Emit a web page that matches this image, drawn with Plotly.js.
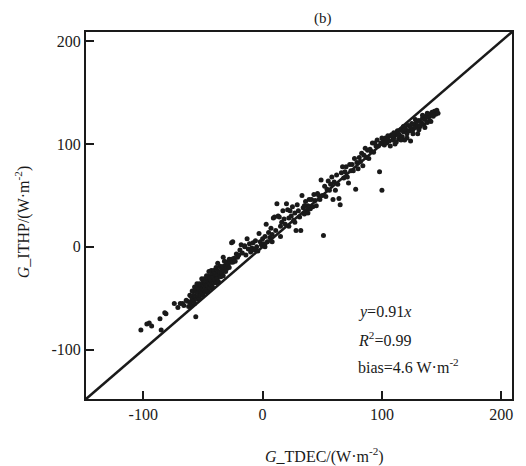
<!DOCTYPE html>
<html>
<head>
<meta charset="utf-8">
<script src="https://cdn.plot.ly/plotly-3.0.1.min.js"></script>
<style>html,body{margin:0;padding:0;background:#fff;}#chart{width:526px;height:466px;}</style>
</head>
<body>
<div id="chart"></div>
<script>
// G_TDEC (x) vs G_ITHP (y), W·m^-2
var tailX = [-102,-97,-95,-93,-86,-85,-82,-81,-74,-71,-69,-67,-56,-64,-66];
var tailY = [-81,-75,-74,-77,-70,-81,-64,-65,-55,-59,-55,-55,-68,-52,-57];

var clusterX = [-63,-62,-61,-61,-60,-60,-59,-59,-58,-58,-57,-57,-57,-56,-56,-56,-55,-55,-55,-54,-54,-54,-53,-53,-53,-52,-52,-52,-51,-51,-51,-50,-50,-50,-50,-49,-49,-49,-48,-48,-48,-48,-47,-47,-47,-46,-46,-46,-46,-45,-45,-45,-44,-44,-44,-44,-43,-43,-43,-42,-42,-42,-41,-41,-41,-40,-40,-40,-39,-39,-39,-38,-38,-38,-37,-37,-36,-36,-36,-35,-35,-34,-34,-33,-33,-32,-32,-31,-31,-30,-30,-29,-28,-28,-27,-26,-25,-24,-23,-22,-21,-20,-37.6,-25,-15,-33,-45];
var clusterY = [-53,-58,-47,-54,-48,-57,-43,-51,-47,-53,-39,-48,-55,-43,-49,-41,-51,-44,-36,-48,-40,-45,-50,-41,-36,-44,-47,-37,-41,-31,-45,-37,-47,-41,-34,-38,-42,-31,-44,-36,-34,-40,-37,-28,-42,-33,-43,-30,-37,-34,-39,-28,-32,-40,-30,-36,-23,-33,-37,-29,-39,-26,-32,-30,-23,-35,-26,-32,-27,-20,-35,-28,-23,-31,-24,-34,-19,-27,-25,-29,-19,-22,-26,-19,-28,-14,-22,-24,-18,-15,-21,-18,-12,-20,-15,-12,-15,-11,-14,-7,-10,-8,-16,5,0,-10,-24];

var midX = [-26,-19,-17,-15,-14,-12,-11,-10,-9,-8,-7,-6,-5,-4,-3,-2,-1,0,1,2,3,4,5,6,7,8,9,10,11,12,13,14,15,16,17,18,19,20,21,22,23,24,25,26,27,28,29,30,31,32,33,34,35,36,37,38,39,40,-18,-13,-6,2,8,15,22,27,35,38];
var midY = [4,-3,-6,1,-8,-2,3,-5,-1,4,-3,6,0,-4,13,5,2,8,3,10,22,5,14,9,18,12,28,29,16,42,30,29,20,24,35,27,22,42,36,28,35,30,39,26,33,16,41,35,29,16,50,38,32,44,35,40,46,37,2,8,-2,0,5,10,20,24,40,33];

var upperX = [41,42,43,44,45,46,47,48,49,50,51,52,53,54,55,56,57,58,59,60,61,62,63,64,65,66,67,68,69,70,71,72,73,74,75,76,77,78,79,80,81,82,83,84,85,86,87,88,89,90,91,92,93,94,95,96,97,98,99,100,100];
var upperY = [46,39,51,45,40,52,50,46,65,50,11,59,49,56,64,55,61,68,46,63,55,70,61,47,41,72,78,67,73,78,68,62,80,74,80,74,86,56,82,76,87,83,91,79,89,96,87,94,86,95,93,101,92,101,98,104,98,73,101,55,106];

var topX = [101,102,103,104,105,106,107,108,109,110,110,111,112,113,114,114,115,116,117,118,118,119,120,121,122,123,124,124,125,126,127,128,129,130,130,131,132,133,134,135,136,137,138,139,140,140,141,142,143,144,145,146,147,112,116,121,126,131,136,141,128,134,138,119,109];
var topY = [103,99,106,101,108,103,98,109,104,111,106,100,109,113,105,110,108,114,107,112,117,104,114,110,118,113,103,116,120,114,119,116,122,110,118,123,117,121,125,119,124,127,121,126,129,123,128,131,127,132,129,133,130,102,104,106,110,114,116,122,124,128,130,116,108];

var axisRange = [-148, 209];
var tickVals = [-100, 0, 100, 200];

var xs = tailX.concat(clusterX, midX, upperX, topX);
var ys = tailY.concat(clusterY, midY, upperY, topY);

var fontFam = '"Liberation Serif", "Times New Roman", serif';
var ink = '#1a1a1a';

var trace = {
  x: xs, y: ys, type: 'scatter', mode: 'markers',
  marker: {color: ink, size: 5, line: {width: 0}},
  hoverinfo: 'skip', showlegend: false
};

function axis() {
  return {
    range: axisRange, autorange: false,
    tickvals: tickVals, ticktext: tickVals.map(String),
    ticks: 'inside', ticklen: 8, tickwidth: 2, tickcolor: ink,
    showline: true, linewidth: 2, linecolor: ink, mirror: true,
    showgrid: false, zeroline: false,
    tickfont: {family: fontFam, size: 16, color: ink}
  };
}

function note(text, x, y, xanchor, extra) {
  var a = {text: text, xref: 'paper', yref: 'paper', x: x, y: y,
           xanchor: xanchor, yanchor: 'middle', showarrow: false,
           font: {family: fontFam, size: 16, color: ink}};
  for (var k in (extra || {})) a[k] = extra[k];
  return a;
}

var layout = {
  width: 526, height: 466,
  margin: {l: 86, r: 14, t: 32, b: 67},
  paper_bgcolor: '#fff', plot_bgcolor: '#fff',
  xaxis: axis(), yaxis: axis(),
  shapes: [{type: 'line', xref: 'paper', yref: 'paper', x0: 0, y0: 0, x1: 1, y1: 1,
            line: {color: ink, width: 2.5}}],
  annotations: [
    note('(b)', 0.556, 1.038, 'center', {font: {family: fontFam, size: 15, color: ink}}),
    note('<i>G</i>_TDEC/(W·m<sup>-2</sup>)', 0.561, -0.153, 'center'),
    note('<i>G</i>_ITHP/(W·m<sup>-2</sup>)', -0.150, 0.482, 'center', {textangle: -90}),
    note('<i>y</i>=0.91<i>x</i>', 0.634, 0.237, 'left'),
    note('<i>R</i><sup>2</sup>=0.99', 0.634, 0.163, 'left'),
    note('bias=4.6 W·m<sup>-2</sup>', 0.634, 0.090, 'left')
  ]
};

Plotly.newPlot('chart', [trace], layout, {staticPlot: true, displayModeBar: false});
</script>
</body>
</html>
